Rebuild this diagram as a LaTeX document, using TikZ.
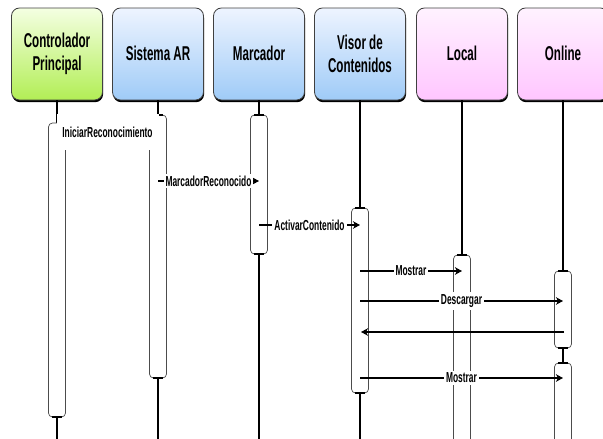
\documentclass[tikz,border=0pt]{standalone}
\usepackage{fontspec}
\newfontfamily\nf[FakeStretch=0.58]{Liberation Sans Bold}
\usetikzlibrary{arrows.meta,shadows}
\definecolor{gtop}{HTML}{F4FFE2}
\definecolor{gbot}{HTML}{B2EE55}
\definecolor{btop}{HTML}{EEF4FF}
\definecolor{bbot}{HTML}{9FCBF7}
\definecolor{ptop}{HTML}{FFF2FF}
\definecolor{pbot}{HTML}{FFC6FF}
\begin{document}
\begin{tikzpicture}[x=1pt,y=-1pt,
  hdr/.style={rounded corners=8pt, draw=black!75, line width=0.8pt,
    minimum width=91pt, minimum height=92pt, align=center,
    font=\nf\fontsize{20}{23}\selectfont,
    drop shadow={shadow xshift=0.6pt, shadow yshift=-2.2pt, fill=black, opacity=1}},
  hgreen/.style={hdr, top color=gtop, bottom color=gbot},
  hblue/.style={hdr, top color=btop, bottom color=bbot},
  hpink/.style={hdr, top color=ptop, bottom color=pbot},
  life/.style={line width=2pt, black},
  bar/.style={draw=black!70, line width=0.7pt, fill=white, rounded corners=4pt,
    minimum width=17pt, inner sep=0pt},
  tcap/.style={line width=2.2pt, black},
  msg/.style={-{Stealth[length=7pt,width=7.5pt,inset=2pt]}, line width=1.1pt},
  msgb/.style={msg, line width=1.9pt},
  lbl/.style={fill=white, inner sep=2pt, font=\nf\fontsize{14.5}{16}\selectfont}]
\useasboundingbox (0,0) rectangle (603,439);
% headers
\node[hgreen] (ctrl) at (57,54) {Controlador\\Principal};
\node[hblue]  (sis)  at (158,54) {\raisebox{2pt}{Sistema AR}};
\node[hblue]  (mar)  at (259,54) {\raisebox{2pt}{Marcador}};
\node[hblue]  (vis)  at (360,54) {Visor de\\Contenidos};
\node[hpink]  (loc)  at (462,54) {\raisebox{2pt}{Local}};
\node[hpink]  (onl)  at (563,54) {\raisebox{2pt}{Online}};
% lifelines
\foreach \n in {ctrl,sis,mar,vis,loc,onl}
  \draw[life] (\n.south) -- (\n |- 0,445);
% activation bars
\node[bar, minimum height=294pt] (cbar) at (57,270) {};
\node[bar, minimum height=263pt] (sbar) at (158,246.5) {};
\node[bar, minimum height=139pt] (mbar) at (259,184.5) {};
\node[bar, minimum height=185pt] (vbar) at (360,300.5) {};
\node[bar, minimum height=190pt] (lbar) at (462,350) {};
\node[bar, minimum height=77pt]  (obar1) at (563,309.5) {};
\node[bar, minimum height=82pt]  (obar2) at (563,404) {};
% T caps
\foreach \b in {sbar,mbar,vbar,lbar,obar1,obar2}
  \draw[tcap] ([xshift=-5pt]\b.north) -- ([xshift=5pt]\b.north);
\foreach \b in {cbar,sbar,mbar,vbar,obar1}
  \draw[tcap] ([xshift=-5pt]\b.south) -- ([xshift=5pt]\b.south);
% messages
\draw[msg] (ctrl |- 0,132) -- node[lbl, minimum height=36pt, minimum width=102pt] {IniciarReconocimiento} (sis |- 0,132);
\draw[msg] (sis |- 0,181) -- node[lbl] {MarcadorReconocido} (mar |- 0,181);
\draw[msg] (mar |- 0,225) -- node[lbl] {ActivarContenido} (vis |- 0,225);
\draw[msgb] (vis |- 0,271) -- node[lbl] {Mostrar} (loc |- 0,271);
\draw[msg] (vis |- 0,301) -- node[lbl] {Descargar} (onl |- 0,301);
\draw[msgb] ([xshift=1pt]onl |- 0,332) -- ([xshift=1pt]vis |- 0,332);
\draw[msgb] (vis |- 0,378) -- node[lbl] {Mostrar} (onl |- 0,378);
\end{tikzpicture}
\end{document}
